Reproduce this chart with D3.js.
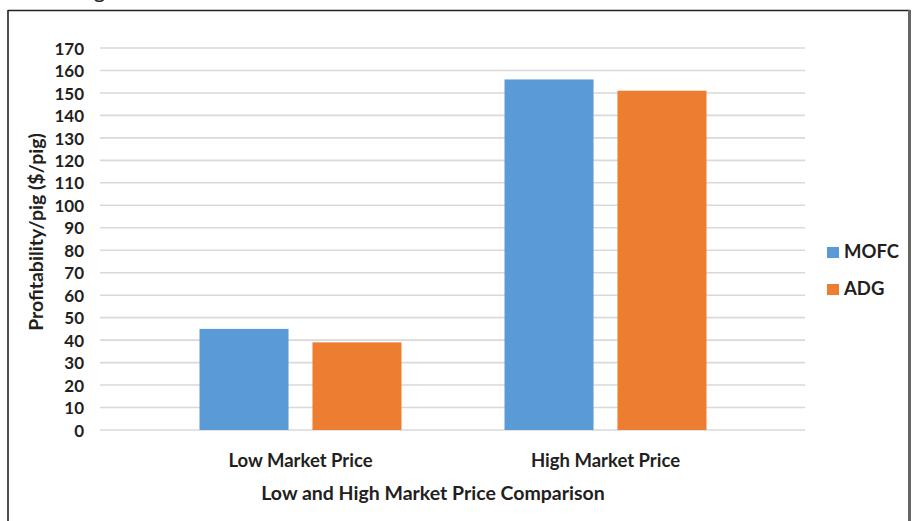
<!DOCTYPE html>
<html>
<head>
<meta charset="utf-8">
<script src="https://cdn.jsdelivr.net/npm/d3@7"></script>
<style>
  html, body { margin: 0; padding: 0; background: #fff; }
  svg { display: block; }
  text { font-family: Lato, "Open Sans", sans-serif; font-weight: bold; fill: #231f20; }
</style>
</head>
<body>
<svg id="chart" width="913" height="521"></svg>
<script>
// Profitability per pig under low and high market prices
const categories = ["Low Market Price", "High Market Price"];
const seriesNames = ["MOFC", "ADG"];
const mofcValues = [45, 156];
const adgValues = [39, 151];
const yTicks = [0, 10, 20, 30, 40, 50, 60, 70, 80, 90, 100, 110, 120, 130, 140, 150, 160, 170];
const colors = ["#5b9bd5", "#ed7d31"];

const svg = d3.select("#chart");

// Outer frame
svg.append("line").attr("x1", 8).attr("x2", 8).attr("y1", 10).attr("y2", 530)
  .attr("stroke", "#222").attr("stroke-width", 1.6);
svg.append("line").attr("x1", 8).attr("x2", 910).attr("y1", 10.5).attr("y2", 10.5)
  .attr("stroke", "#222").attr("stroke-width", 1.4);
svg.append("line").attr("x1", 909.5).attr("x2", 909.5).attr("y1", 10).attr("y2", 530)
  .attr("stroke", "#666").attr("stroke-width", 3);

// Caption text above the frame (mostly outside the view)
svg.append("text").attr("x", 76).attr("y", -2)
  .style("font-weight", "normal").style("font-size", "22px").text("Figure");

const y = d3.scaleLinear().domain([0, 170]).range([430, 48]);
const x0 = d3.scaleBand().domain(categories).range([148, 758]);
const x1 = d3.scaleBand().domain(seriesNames).range([51.5, x0.bandwidth() - 51.5]).paddingInner(0.212);

// Gridlines
svg.append("g")
  .selectAll("line").data(yTicks).join("line")
  .attr("x1", 100).attr("x2", 805)
  .attr("y1", d => y(d)).attr("y2", d => y(d))
  .attr("stroke", "#d9d9d9").attr("stroke-width", 1.6);

// Y axis tick labels
const yAxis = d3.axisLeft(y).tickValues(yTicks).tickSize(0).tickPadding(0);
const gy = svg.append("g").attr("transform", "translate(84,0)").call(yAxis);
gy.select(".domain").remove();
gy.selectAll("text").style("font-size", "17px").style("font-family", "Lato, sans-serif")
  .attr("fill", "#231f20").attr("dy", "0.36em");

// Bars
const rows = categories.map((c, i) => ({ cat: c, vals: [mofcValues[i], adgValues[i]] }));
svg.append("g").selectAll("g").data(rows).join("g")
  .attr("transform", d => `translate(${x0(d.cat)},0)`)
  .selectAll("rect").data(d => d.vals.map((v, j) => ({ name: seriesNames[j], v, j })))
  .join("rect")
  .attr("x", d => x1(d.name))
  .attr("width", x1.bandwidth())
  .attr("y", d => y(d.v))
  .attr("height", d => y(0) - y(d.v))
  .attr("fill", d => colors[d.j]);

// X axis category labels
const xAxis = d3.axisBottom(x0).tickSize(0).tickPadding(0);
const gx = svg.append("g").attr("transform", "translate(0,454)").call(xAxis);
gx.select(".domain").remove();
gx.selectAll("text").style("font-size", "18.5px").style("font-family", "Lato, sans-serif")
  .attr("fill", "#231f20");

// Axis titles
svg.append("text").attr("x", 433).attr("y", 500).attr("text-anchor", "middle")
  .style("font-size", "19.5px").text("Low and High Market Price Comparison");
svg.append("text").attr("transform", "translate(43,232) rotate(-90)")
  .attr("text-anchor", "middle").style("font-size", "19.5px").text("Profitability/pig ($/pig)");

// Legend
const legend = svg.append("g").selectAll("g").data(seriesNames).join("g")
  .attr("transform", (d, i) => `translate(827,${247 + i * 37})`);
legend.append("rect").attr("width", 12).attr("height", 11).attr("fill", (d, i) => colors[i]);
legend.append("text").attr("x", 17).attr("y", 11).style("font-size", "18.5px").text(d => d);
</script>
</body>
</html>
